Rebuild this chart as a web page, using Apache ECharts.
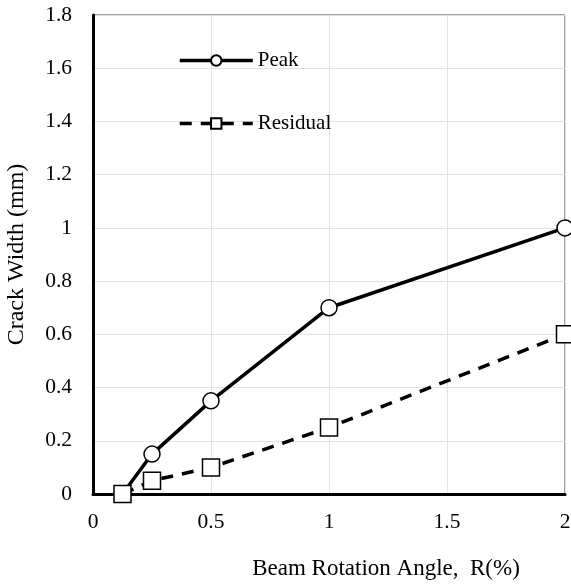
<!DOCTYPE html>
<html>
<head>
<meta charset="utf-8">
<script src="https://cdn.jsdelivr.net/npm/echarts@6/dist/echarts.min.js"></script>
<style>
html,body{margin:0;padding:0;background:#fff;}
#c{width:571px;height:586px;}
</style>
</head>
<body>
<div id="c"></div>
<script>
const xTicks = [0, 0.5, 1, 1.5, 2];
const rotation = [0.125, 0.25, 0.5, 1, 2];
const peak = [0, 0.15, 0.35, 0.7, 1.0];
const residual = [0, 0.05, 0.1, 0.25, 0.6];

const font = '"Liberation Serif", "Times New Roman", serif';
const chart = echarts.init(document.getElementById('c'));
chart.setOption({
  animation: false,
  backgroundColor: '#fff',
  grid: {left: 93, right: 6, top: 15, bottom: 92, show: true, borderColor: '#404040', borderWidth: 1,
    containLabel: false, outerBoundsMode: 'none'},
  legend: {
    orient: 'vertical', left: 173, top: 45, itemWidth: 73, itemHeight: 13, itemGap: 42,
    textStyle: {fontFamily: font, fontSize: 21, color: '#000'},
    data: [
      {name: 'Peak', lineStyle: {width: 3.5, color: '#000', type: 'solid'}},
      {name: 'Residual', lineStyle: {width: 3.5, color: '#000', type: [12, 9]}}
    ]
  },
  xAxis: {
    type: 'value', min: 0, max: 2, interval: 0.5,
    name: 'Beam Rotation Angle,  R(%)', nameLocation: 'middle', nameGap: 63,
    nameTextStyle: {fontFamily: font, fontSize: 23, color: '#000', padding: [0, 0, 0, 114]},
    axisLine: {show: true, lineStyle: {color: '#000', width: 3}},
    axisTick: {show: false},
    axisLabel: {fontFamily: font, fontSize: 21.5, color: '#000', margin: 17,
      formatter: v => xTicks.includes(v) ? String(v) : ''},
    splitLine: {show: true, lineStyle: {color: '#e3e3e3', width: 1}}
  },
  yAxis: {
    type: 'value', min: 0, max: 1.8, interval: 0.2,
    name: 'Crack Width (mm)', nameLocation: 'middle', nameGap: 64,
    nameTextStyle: {fontFamily: font, fontSize: 24, color: '#000'},
    axisLine: {show: true, lineStyle: {color: '#000', width: 3}},
    axisTick: {show: false},
    axisLabel: {fontFamily: font, fontSize: 21.5, color: '#000', margin: 21},
    splitLine: {show: true, lineStyle: {color: '#e3e3e3', width: 1}}
  },
  series: [
    {
      name: 'Peak', type: 'line',
      data: rotation.map((x, i) => [x, peak[i]]),
      symbol: 'circle', symbolSize: 16,
      lineStyle: {color: '#000', width: 3.5},
      itemStyle: {color: '#fff', borderColor: '#000', borderWidth: 1.5},
      z: 3
    },
    {
      name: 'Residual', type: 'line',
      data: rotation.map((x, i) => [x, residual[i]]),
      symbol: 'rect', symbolSize: 17,
      lineStyle: {color: '#000', width: 3.5, type: [12, 9]},
      itemStyle: {color: '#fff', borderColor: '#000', borderWidth: 1.5},
      z: 4
    }
  ]
});
</script>
</body>
</html>
